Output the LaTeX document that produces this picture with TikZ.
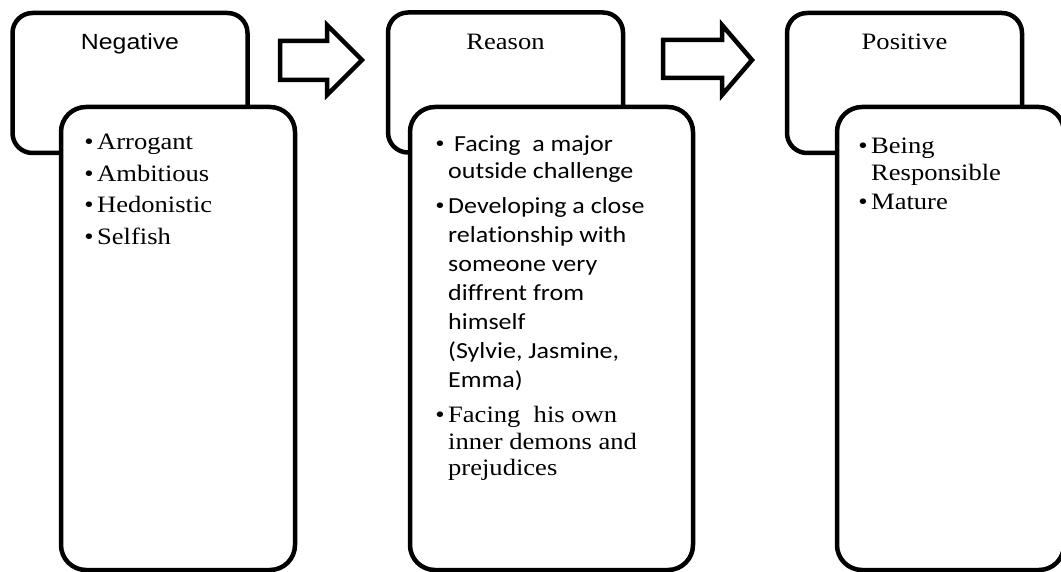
\documentclass[tikz,border=0pt]{standalone}
\usepackage{fontspec}
\setmainfont{Liberation Serif}[FakeStretch=1.13]
\newfontfamily\sanf{Carlito}[FakeStretch=1.13, Ligatures=NoCommon]
\newfontfamily\headf{Liberation Sans}[FakeStretch=1.13]
\usetikzlibrary{positioning}

\newcommand{\sa}{\sanf\fontsize{23}{26.5}\selectfont}
\newcommand{\bul}{\llap{\textbullet\hspace{3.5pt}}}

\begin{document}
\begin{tikzpicture}[x=1pt, y=-1pt,
  topbox/.style={draw, line width=4.5pt, rounded corners=20pt, minimum width=235pt, minimum height=140pt, inner sep=0pt, outer sep=0pt},
  listbox/.style={draw, fill=white, line width=4.5pt, rounded corners=25pt, minimum height=463pt, inner sep=0pt, outer sep=0pt},
  title/.style={anchor=base, inner sep=0pt, font=\fontsize{23.5}{26.5}\selectfont},
  items/.style={anchor=base west, inner sep=0pt, font=\fontsize{23.5}{26.5}\selectfont},
  blockarrow/.style={draw, line width=4.5pt, line join=miter}]
  \useasboundingbox (0,0) rectangle (1061,572);

  \node [topbox] (ne0) at (130,83) {};
  \node [listbox, minimum width=234pt] (ne1) at (178,338.5) {};
  \node [title, font=\headf\fontsize{22}{26.5}\selectfont] (ne0t) at ([yshift=-37pt]ne0.north) {Negative};
  \node [items] (ne2) at (97,150) {\begin{tabular}[t]{@{}l@{}}
    \bul Arrogant\\[5pt]
    \bul Ambitious\\[5pt]
    \bul Hedonistic\\[5pt]
    \bul Selfish
  \end{tabular}};

  \node [topbox] (re0) at (505.5,82.5) {};
  \node [listbox, minimum width=283pt] (re1) at (551.5,338.5) {};
  \node [title] (re0t) at ([yshift=-37pt]re0.north) {Reason};
  \node [items] (re2) at (448,152) {\begin{tabular}[t]{@{}l@{}}
    \bul\sa\ Facing\ \ a major\\
    \sa outside challenge\\[9pt]
    \bul\sa Developing a close\\[2.5pt]
    \sa relationship with\\[2.5pt]
    \sa someone very\\[2.5pt]
    \sa diffrent from\\[2.5pt]
    \sa himself\\[2.5pt]
    \sa (Sylvie, Jasmine,\\[2.5pt]
    \sa Emma)\\[8.5pt]
    \bul Facing\ \ his own\\
    inner demons and\\
    prejudices
  \end{tabular}};

  \node [topbox] (po0) at (904.5,83) {};
  \node [listbox, minimum width=227pt] (po1) at (950.5,338.5) {};
  \node [title] (po0t) at ([yshift=-37pt]po0.north) {Positive};
  \node [items] (po2) at (871,154) {\begin{tabular}[t]{@{}l@{}}
    \bul Being\\
    Responsible\\[2.5pt]
    \bul Mature
  \end{tabular}};

  \draw [blockarrow] (280,41) -- (327,41) -- (327,25) -- (362,60) -- (327,95) -- (327,80) -- (280,80) -- cycle;
  \draw [blockarrow] (663,40) -- (722,40) -- (722,25) -- (752,60) -- (722,95) -- (722,78) -- (663,78) -- cycle;
\end{tikzpicture}
\end{document}
